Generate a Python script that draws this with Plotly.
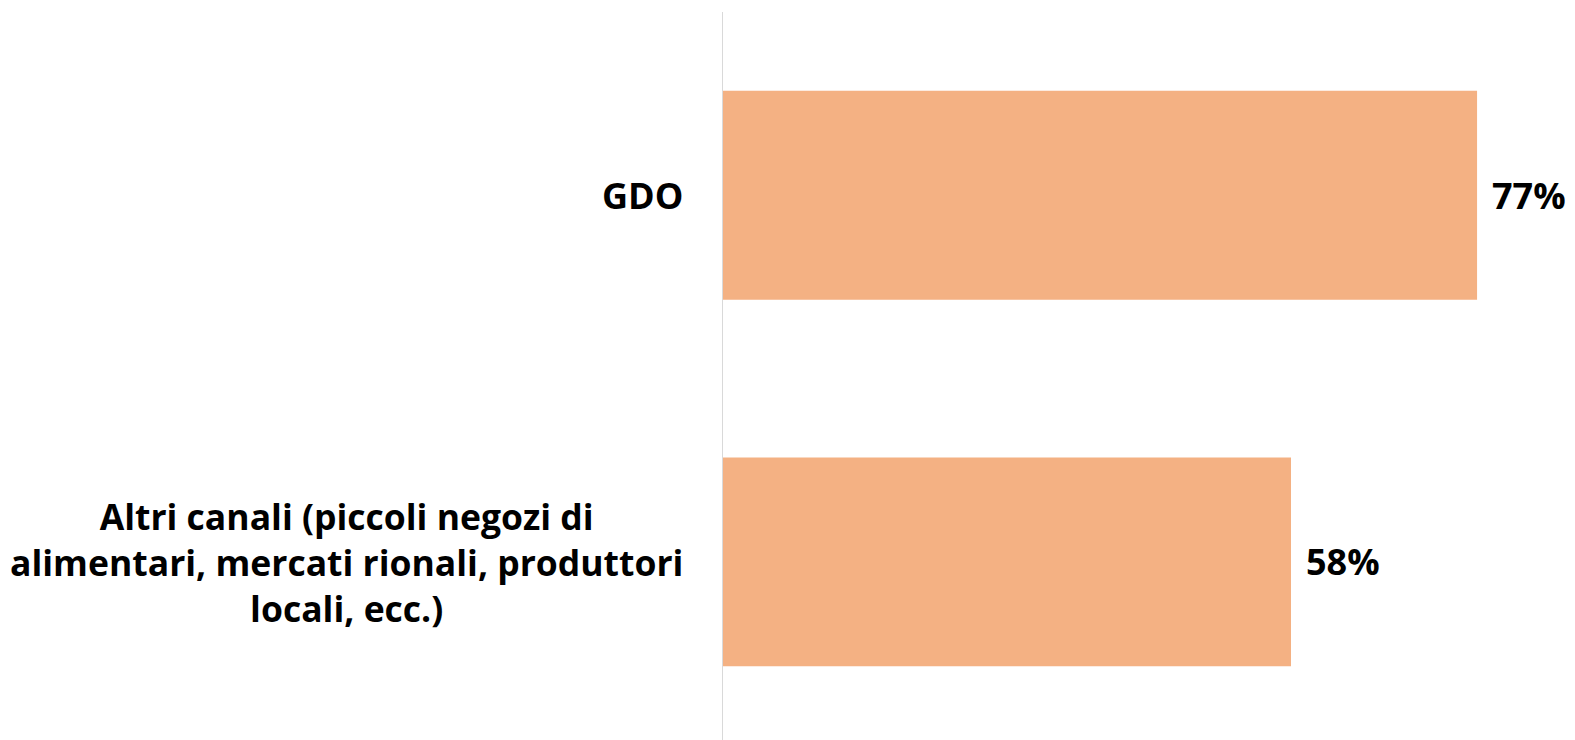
import plotly.graph_objects as go

categories = ["GDO", "Altri canali (piccoli negozi di<br>alimentari, mercati rionali, produttori<br>locali, ecc.)"]
values = [77, 58]
value_labels = ["77%", "58%"]

BAR_COLOR = "#F4B183"
FONT = "Open Sans"

fig = go.Figure()
fig.add_trace(go.Bar(
    y=list(range(len(categories))),
    x=values,
    orientation="h",
    marker=dict(color=BAR_COLOR, line=dict(width=0)),
    hoverinfo="skip",
))

annotations = []
for i, (cat, v, lab) in enumerate(zip(categories, values, value_labels)):
    annotations.append(dict(
        x=0, xref="paper", y=i, yref="y",
        text=f"<b>{cat}</b>", showarrow=False,
        xanchor="right", yanchor="middle", align="center",
        xshift=-38,
        font=dict(family=FONT, size=36 if i == 0 else 35.5, color="black"),
    ))
    annotations.append(dict(
        x=v, xref="x", y=i, yref="y",
        text=f"<b>{lab}</b>", showarrow=False,
        xanchor="left", yanchor="middle",
        xshift=13,
        font=dict(family=FONT, size=36, color="black"),
    ))

# page body has an 8px default margin; compensate so the figure fills the window
fig.update_layout(
    width=1567, height=732,
    margin=dict(l=715, r=0, t=4, b=0),
    paper_bgcolor="white", plot_bgcolor="white",
    bargap=0.43,
    showlegend=False,
    annotations=annotations,
    xaxis=dict(range=[0, 87.0], visible=False, fixedrange=True),
    yaxis=dict(range=[1.486, -0.5], showticklabels=False, showgrid=False,
               zeroline=False, showline=True, linecolor="#d9d9d9", linewidth=1,
               ticks="", fixedrange=True),
)

fig.write_html("out.html")
